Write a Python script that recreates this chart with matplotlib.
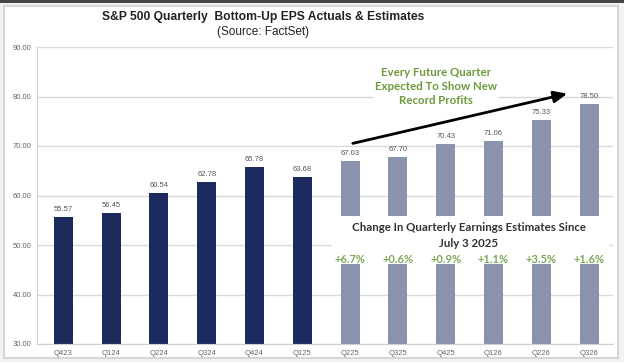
import matplotlib.pyplot as plt
from matplotlib.patches import Rectangle

quarters = ['Q423', 'Q124', 'Q224', 'Q324', 'Q424', 'Q125',
            'Q225', 'Q325', 'Q425', 'Q126', 'Q226', 'Q326']
eps = [55.57, 56.45, 60.54, 62.78, 65.78, 63.68,
       67.03, 67.70, 70.43, 71.06, 75.33, 78.50]
n_actual = 6
changes = ['+6.7%', '+0.6%', '+0.9%', '+1.1%', '+3.5%', '+1.6%']
yticks = [30, 40, 50, 60, 70, 80, 90]

navy = '#1c2a5e'
slate = '#8a93ad'
green = '#6b9a3c'

fig = plt.figure(figsize=(6.24, 3.62), dpi=100)
fig.patch.set_facecolor('#f2f2f2')
# white panel with light border
fig.add_artist(Rectangle((4/624, 4/362), 614/624, 352/362, transform=fig.transFigure,
                         facecolor='white', edgecolor='#d6d6d6', lw=1.5, zorder=0))
fig.add_artist(Rectangle((0, 1 - 3/362), 1, 3/362, transform=fig.transFigure,
                         facecolor='#454545', edgecolor='none', zorder=0))

ax = fig.add_axes([37/624, 18/362, 576/624, 297/362])
ax.set_facecolor('none')
x = list(range(len(quarters)))
colors = [navy] * n_actual + [slate] * (len(quarters) - n_actual)
ax.bar(x, [v - 30 for v in eps], bottom=30, width=0.4, color=colors, zorder=2)
for xi, v in zip(x, eps):
    ax.text(xi, v + 0.8, f'{v:.2f}', ha='center', va='bottom', fontsize=5.5,
            color='#555555', family='Liberation Sans', zorder=3)

ax.set_xlim(-0.55, 11.5)
ax.set_ylim(30, 90)
ax.set_yticks(yticks)
ax.set_yticklabels([f'{t:.2f}' for t in yticks])
ax.set_xticks(x)
ax.set_xticklabels(quarters)
ax.tick_params(length=0, labelsize=5.5, labelcolor='#666666', pad=4)
for lbl in ax.get_xticklabels() + ax.get_yticklabels():
    lbl.set_family('Liberation Sans')
ax.grid(axis='y', color='#d9d9d9', lw=1, zorder=1)
for s in ['top', 'right']:
    ax.spines[s].set_visible(False)
for s in ['left', 'bottom']:
    ax.spines[s].set_color('#cfcfcf')

# white box covering bars for the change table
ax.add_patch(Rectangle((5.62, 46.2), 5.8, 9.6, facecolor='white', edgecolor='none', zorder=4))
ax.text(8.48, 53.5, 'Change In Quarterly Earnings Estimates Since', ha='center', va='center',
        fontsize=8.3, fontweight='bold', color='#333333', family='Lato', zorder=5)
ax.text(8.48, 50.3, 'July 3 2025', ha='center', va='center',
        fontsize=8.3, fontweight='bold', color='#333333', family='Lato', zorder=5)
for xi, c in zip(x[n_actual:], changes):
    ax.text(xi, 47.1, c, ha='center', va='center', fontsize=8, fontweight='bold',
            color='#7fa85a', family='Lato', zorder=5)

# annotation about record profits
ax.add_patch(Rectangle((6.5, 77.6), 2.6, 8, facecolor='white', edgecolor='none', zorder=4))
ax.text(7.8, 86.0, 'Every Future Quarter\nExpected To Show New\nRecord Profits', ha='center',
        va='top', fontsize=8.3, fontweight='bold', color=green, family='Lato',
        linespacing=1.35, zorder=5)
ax.annotate('', xy=(10.6, 80.7), xytext=(6.0, 70.4),
            arrowprops=dict(arrowstyle='-|>,head_length=0.8,head_width=0.35',
                            color='black', lw=2), zorder=6)

fig.text(263/624, 1 - 17/362, 'S&P 500 Quarterly  Bottom-Up EPS Actuals & Estimates', ha='center',
         va='center', fontsize=8.7, fontweight='bold', color='#222222', family='Liberation Sans')
fig.text(263/624, 1 - 32/362, '(Source: FactSet)', ha='center', va='center', fontsize=8.5,
         color='#222222', family='Liberation Sans')

fig.savefig('out.png', dpi=100, facecolor=fig.get_facecolor())
